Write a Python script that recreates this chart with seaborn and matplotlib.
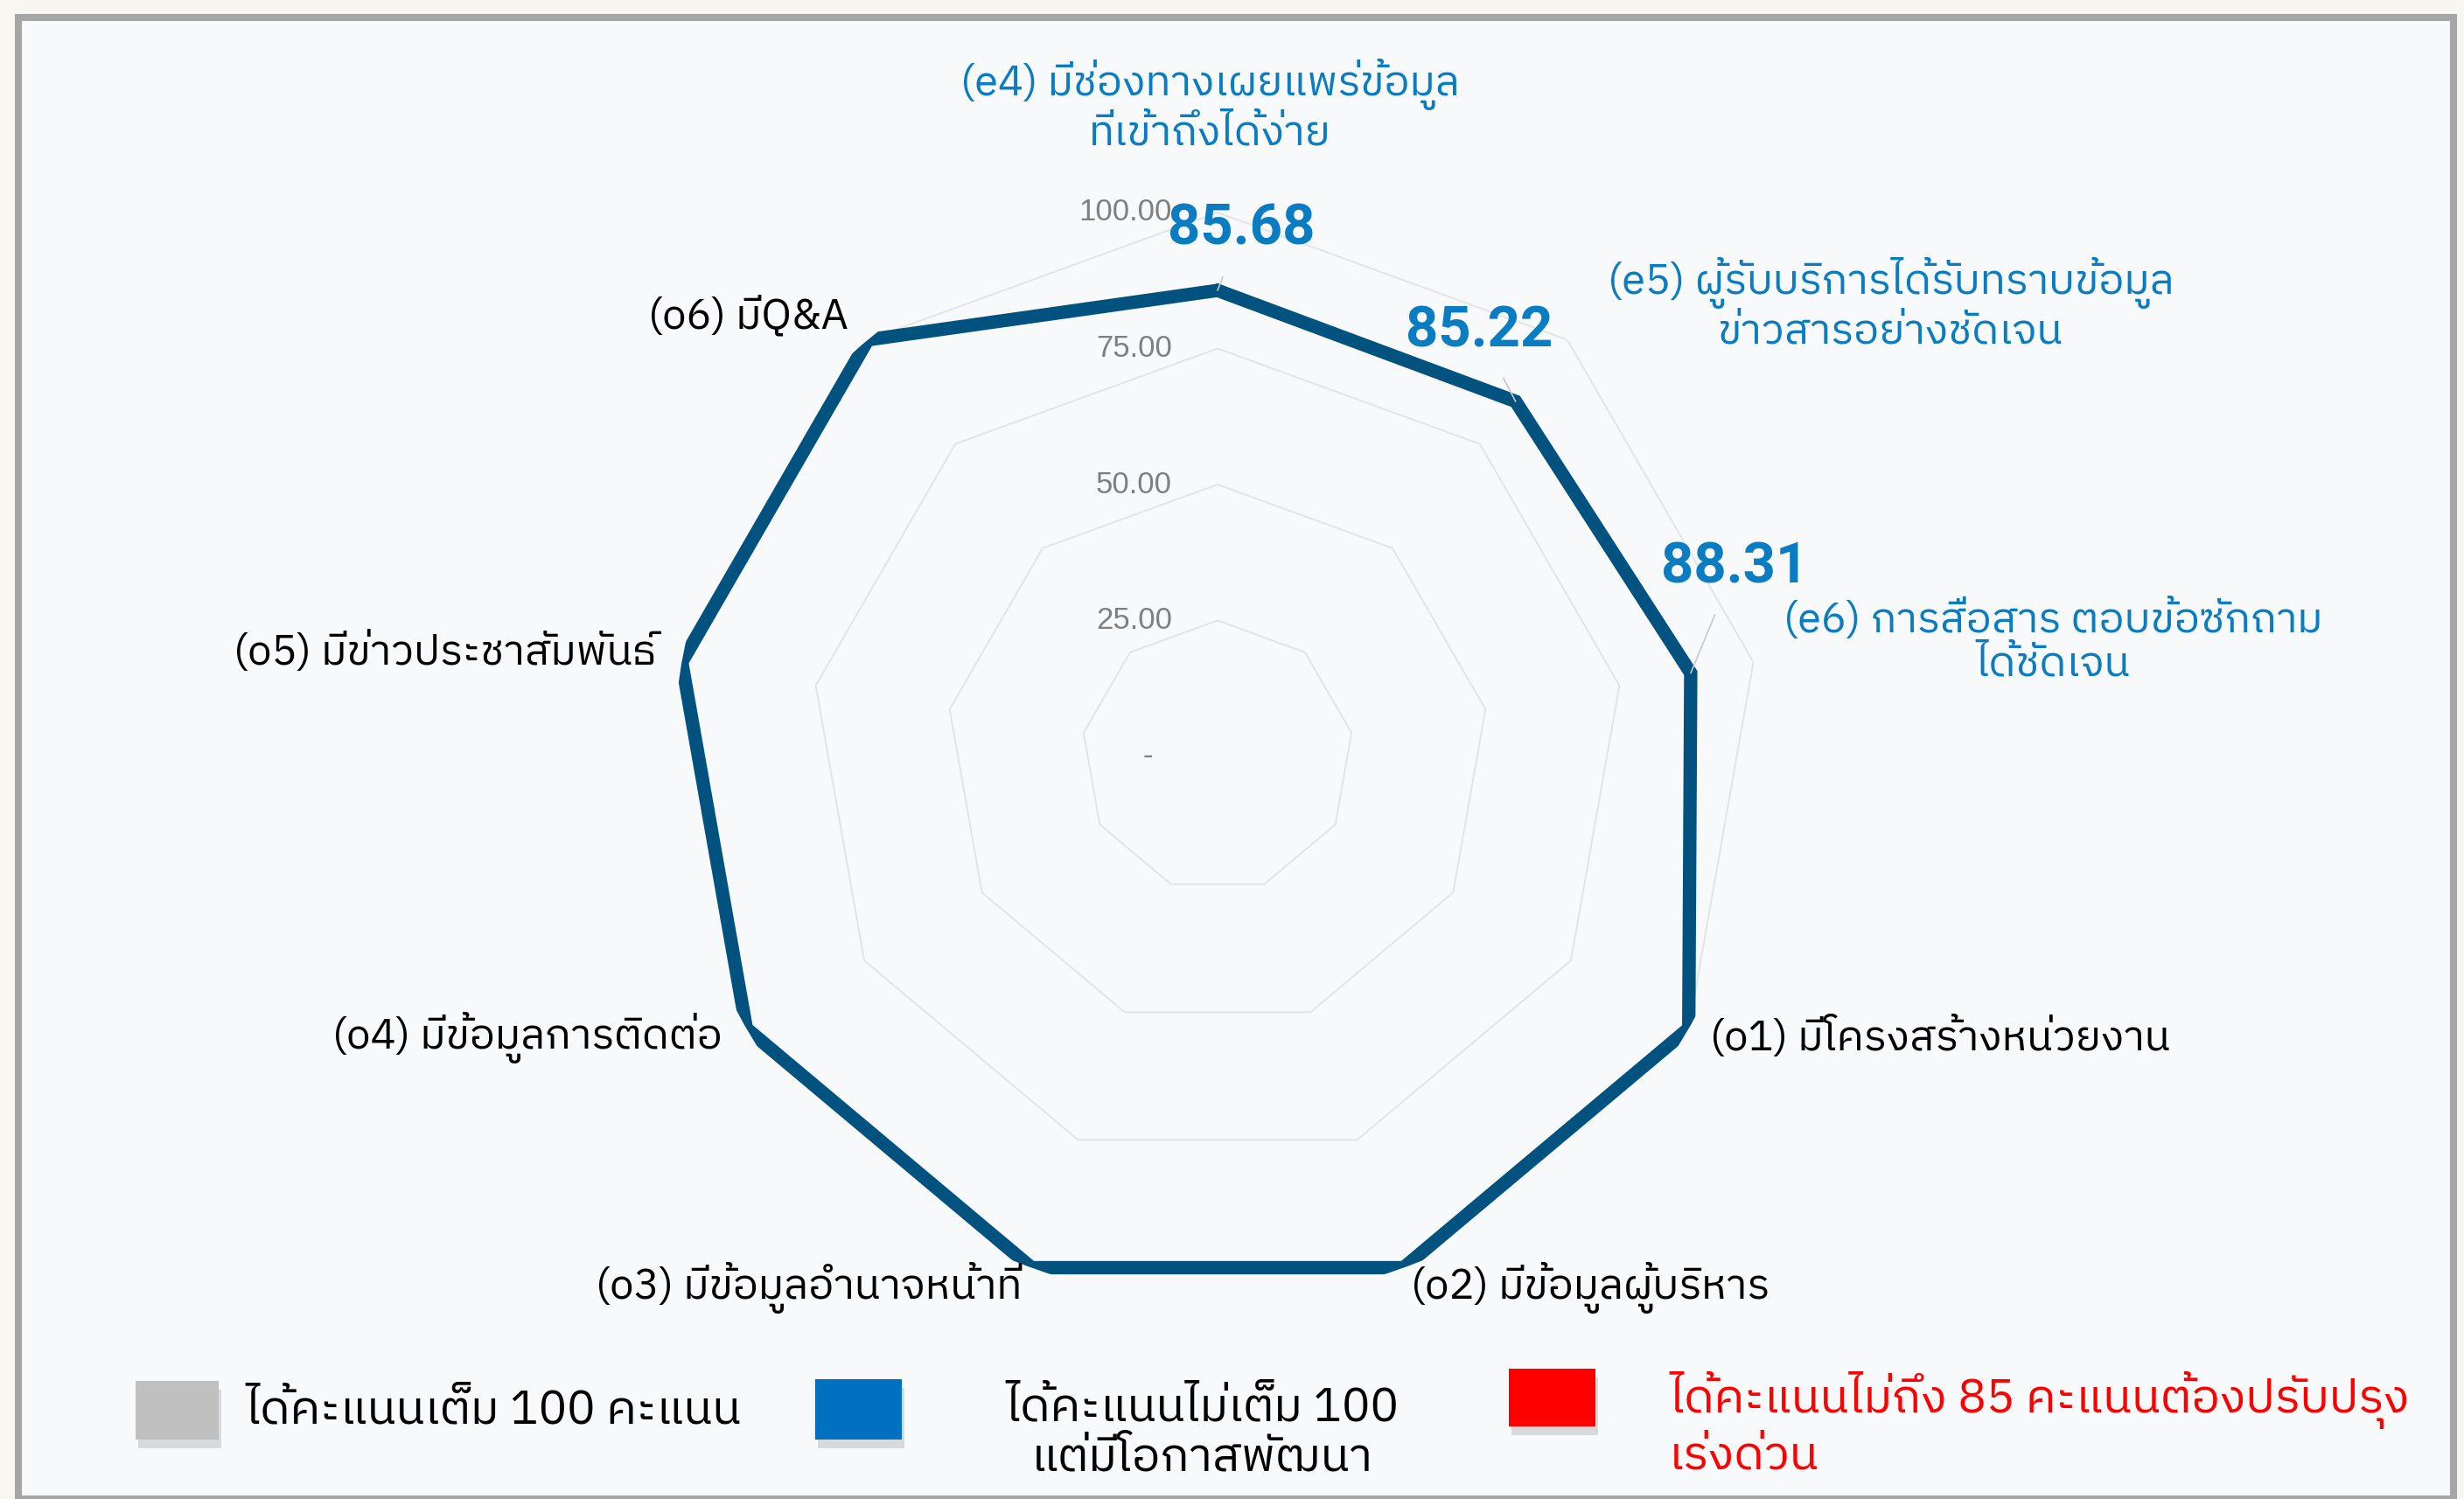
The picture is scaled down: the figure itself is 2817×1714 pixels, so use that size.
import numpy as np
import pandas as pd
import matplotlib
matplotlib.use('Agg')
import matplotlib.pyplot as plt
import matplotlib.patheffects as pe
from matplotlib import font_manager as fm
from matplotlib.ft2font import FT2Font
from matplotlib.patches import Rectangle
from matplotlib.transforms import offset_copy
import seaborn as sns

# Data
categories = ['e4', 'e5', 'e6', 'o1', 'o2', 'o3', 'o4', 'o5', 'o6']
labels = [
    '(e4) มีช่องทางเผยแพร่ข้อมูล\nที่เข้าถึงได้ง่าย',
    '(e5) ผู้รับบริการได้รับทราบข้อมูล\nข่าวสารอย่างชัดเจน',
    '(e6) การสื่อสาร ตอบข้อซักถาม\nได้ชัดเจน',
    '(o1) มีโครงสร้างหน่วยงาน',
    '(o2) มีข้อมูลผู้บริหาร',
    '(o3) มีข้อมูลอำนาจหน้าที่',
    '(o4) มีข้อมูลการติดต่อ',
    '(o5) มีข่าวประชาสัมพันธ์',
    '(o6) มีQ&A',
]
scores = [85.68, 85.22, 88.31, 100, 100, 100, 100, 100, 100]
ring_levels = [25, 50, 75, 100]
ring_labels = ['25.00', '50.00', '75.00', '100.00']
legend_labels = ['ได้คะแนนเต็ม 100 คะแนน',
                 'ได้คะแนนไม่เต็ม 100\nแต่มีโอกาสพัฒนา',
                 'ได้คะแนนไม่ถึง 85 คะแนนต้องปรับปรุง\nเร่งด่วน']
legend_colors = ['#c0c0c0', '#0070c0', '#ff0000']


def find_thai_font():
    # first installed family that has Thai glyphs
    found = []
    for f in fm.fontManager.ttflist:
        try:
            if 0x0E21 in FT2Font(f.fname).get_charmap():
                found.append(f.name)
        except Exception:
            pass
    found = sorted(set(found), key=lambda n: (0 if 'Thai' in n else 1, 'Looped' in n, 'Serif' in n, n))
    return found[:1]


sns.set_style('white')
plt.rcParams['font.family'] = find_thai_font() + ['DejaVu Sans']

W, H = 2817, 1714
fig = plt.figure(figsize=(W / 100, H / 100), dpi=100, facecolor='#f7f6f0')

# frame
fig.add_artist(Rectangle((21 / W, 0), 2784 / W, 1 - 19.5 / H, transform=fig.transFigure,
                         facecolor='#f7f9fb', edgecolor='#a6a6a6', lw=5.8, zorder=0))

cx, cy, R = 1392, 865, 622
ax = fig.add_axes([(cx - R) / W, (H - cy - R) / H, 2 * R / W, 2 * R / H], projection='polar')
ax.set_theta_zero_location('N')
ax.set_theta_direction(-1)
ax.patch.set_alpha(0)
ax.grid(False)
ax.spines['polar'].set_visible(False)
ax.set_xticks([])
ax.set_yticks([])

theta = np.deg2rad(np.arange(len(categories)) * 360 / len(categories))
closed = np.append(theta, theta[0])

for lv in ring_levels:
    ax.plot(closed, [lv] * len(closed), color='#e4e4e4', lw=1.4, zorder=1)

df = pd.DataFrame({'theta': closed, 'score': scores + scores[:1]})
sns.lineplot(data=df, x='theta', y='score', sort=False, ax=ax, color='#02527f',
             lw=11, zorder=3, estimator=None)
ax.lines[-1].set_solid_joinstyle('miter')
ax.set_ylim(0, 100)
ax.set_xlabel('')
ax.set_ylabel('')

# radial tick labels
for lv, lab in zip(ring_levels, ring_labels):
    ax.text(0, lv, lab, transform=offset_copy(ax.transData, fig=fig, x=-52, y=0, units='dots'),
            ha='right', va='center', fontsize=25, color='#808080', family='Liberation Sans')
ax.text(0, 0, '-', transform=offset_copy(ax.transData, fig=fig, x=-80, y=0, units='dots'),
        ha='center', va='center', fontsize=25, color='#808080', family='Liberation Sans')

# category labels
label_colors = ['#0a7cc2'] * 3 + ['#000000'] * 6
label_offsets = [(-9, 122, 'center'), (46, 40, 'left'), (34, 24, 'left'),
                 (24, -10, 'left'), (8, -23, 'left'), (-11, -23, 'right'),
                 (-27, -10, 'right'), (-30, 11, 'right'), (-22, 27, 'right')]
for t, lab, col, (dx, dy, ha) in zip(theta, labels, label_colors, label_offsets):
    ax.text(t, 100, lab, transform=offset_copy(ax.transData, fig=fig, x=dx, y=dy, units='dots'),
            ha=ha, va='center', ma='center', fontsize=35, color=col, linespacing=1.1)

# value labels
value_offsets = [(27, 70), (-42, 80), (50, 121)]
for t, v, (dx, dy) in zip(theta[:3], scores[:3], value_offsets):
    ax.annotate(f'{v:.2f}', xy=(t, v), xytext=(dx, dy), textcoords='offset pixels',
                ha='center', va='center', fontsize=47, fontweight='bold', family='Roboto',
                color='#0a7cc2', zorder=5,
                arrowprops=dict(arrowstyle='-', color='#c8c8c8', lw=1.2, shrinkA=16, shrinkB=0))

# legend
shadow = [pe.withSimplePatchShadow(offset=(2, -7), shadow_rgbFace='#909090', alpha=0.3)]
boxes = [(155, 1579, 95, 67), (932, 1577, 99, 69), (1725, 1565, 99, 66)]
for (x0, y0, w, h), col in zip(boxes, legend_colors):
    fig.add_artist(Rectangle((x0 / W, 1 - (y0 + h) / H), w / W, h / H, transform=fig.transFigure,
                             facecolor=col, edgecolor='none', path_effects=shadow, zorder=2))
fig.text(280 / W, 1 - 1613 / H, legend_labels[0], ha='left', va='center', fontsize=39, color='black')
fig.text(1374 / W, 1 - 1638 / H, legend_labels[1], ha='center', va='center', ma='center',
         fontsize=39, color='black', linespacing=1.1)
fig.text(1908 / W, 1 - 1629 / H, legend_labels[2], ha='left', va='center', ma='left',
         fontsize=39, color='#ff0000', linespacing=1.1)

fig.savefig('out.png', dpi=100, facecolor=fig.get_facecolor())
